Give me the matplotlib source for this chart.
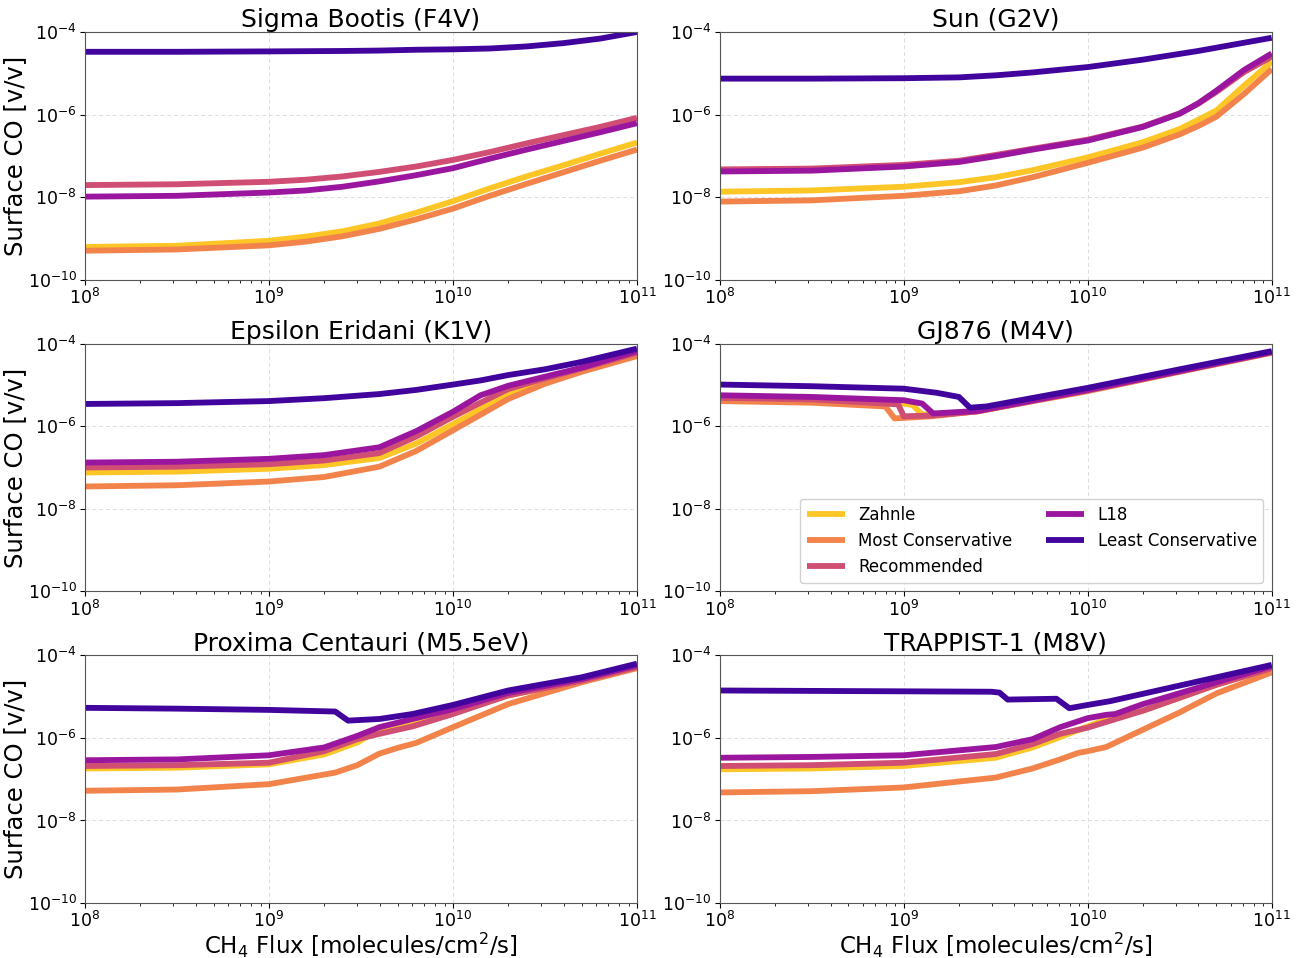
import numpy as np
import matplotlib
matplotlib.use("Agg")
import matplotlib.pyplot as plt
from matplotlib.ticker import LogLocator, NullLocator

# ---------------- data (log10 of CH4 flux, log10 of surface CO) ----------------
series_names = ["Zahnle", "Most Conservative", "Recommended", "L18", "Least Conservative"]
panel_titles = ["Sigma Bootis (F4V)", "Sun (G2V)", "Epsilon Eridani (K1V)",
                "GJ876 (M4V)", "Proxima Centauri (M5.5eV)", "TRAPPIST-1 (M8V)"]

# Sigma Bootis
sb_x = [8, 8.5, 9, 9.2, 9.4, 9.6, 9.8, 10, 10.2, 10.4, 10.6, 10.8, 11]
sb_zahnle = [-9.21, -9.18, -9.06, -8.96, -8.83, -8.64, -8.38, -8.10, -7.79, -7.50, -7.23, -6.95, -6.68]
sb_most = [-9.30, -9.27, -9.17, -9.08, -8.95, -8.77, -8.54, -8.28, -7.97, -7.68, -7.40, -7.12, -6.85]
sb_rec = [-7.71, -7.69, -7.63, -7.58, -7.50, -7.39, -7.26, -7.10, -6.91, -6.70, -6.50, -6.30, -6.08]
sb_l18 = [-7.99, -7.97, -7.89, -7.84, -7.75, -7.62, -7.47, -7.30, -7.07, -6.85, -6.64, -6.43, -6.21]
sb_least = [-4.48, -4.48, -4.47, -4.465, -4.46, -4.45, -4.43, -4.42, -4.40, -4.35, -4.27, -4.16, -4.00]

# Sun
sun_x = [8, 8.5, 9, 9.3, 9.5, 9.7, 10, 10.3, 10.5, 10.6, 10.7, 10.85, 11]
sun_zahnle = [-7.87, -7.84, -7.75, -7.64, -7.52, -7.35, -7.04, -6.67, -6.35, -6.13, -5.90, -5.30, -4.72]
sun_most = [-8.11, -8.08, -7.97, -7.86, -7.72, -7.52, -7.17, -6.80, -6.48, -6.28, -6.05, -5.50, -4.90]
sun_rec = [-7.33, -7.31, -7.22, -7.12, -6.98, -6.83, -6.61, -6.29, -5.97, -5.74, -5.45, -4.97, -4.60]
sun_l18 = [-7.38, -7.36, -7.26, -7.15, -7.01, -6.85, -6.63, -6.30, -5.98, -5.73, -5.42, -4.92, -4.52]
sun_least = [-5.13, -5.13, -5.12, -5.10, -5.05, -4.98, -4.85, -4.67, -4.53, -4.46, -4.38, -4.26, -4.14]

# Epsilon Eridani
ee_x = [8, 8.5, 9, 9.3, 9.6, 9.8, 10, 10.15, 10.3, 10.5, 10.7, 11]
ee_zahnle = [-7.12, -7.10, -7.03, -6.94, -6.77, -6.42, -5.95, -5.58, -5.20, -4.88, -4.62, -4.25]
ee_most = [-7.46, -7.43, -7.34, -7.23, -6.98, -6.60, -6.10, -5.72, -5.34, -4.97, -4.68, -4.30]
ee_rec = [-7.00, -6.98, -6.92, -6.83, -6.65, -6.25, -5.77, -5.43, -5.10, -4.84, -4.60, -4.22]
ee_l18 = [-6.88, -6.86, -6.79, -6.70, -6.51, -6.12, -5.65, -5.25, -5.02, -4.80, -4.58, -4.18]
ee_least = [-5.46, -5.44, -5.39, -5.32, -5.22, -5.12, -4.99, -4.89, -4.76, -4.62, -4.44, -4.12]

# GJ876
gj_zahnle_x = [8, 8.5, 9, 9.05, 9.1, 9.2, 9.4, 10, 10.5, 11]
gj_zahnle = [-5.35, -5.38, -5.45, -5.49, -5.72, -5.70, -5.64, -5.13, -4.67, -4.21]
gj_most_x = [8, 8.5, 8.9, 8.95, 9.15, 9.4, 10, 10.5, 11]
gj_most = [-5.39, -5.43, -5.52, -5.81, -5.76, -5.64, -5.15, -4.68, -4.22]
gj_rec_x = [8, 8.5, 8.97, 9.0, 9.15, 9.4, 10, 10.5, 11]
gj_rec = [-5.31, -5.35, -5.47, -5.76, -5.74, -5.64, -5.13, -4.67, -4.21]
gj_l18_x = [8, 8.5, 9, 9.1, 9.16, 9.4, 10, 10.5, 11]
gj_l18 = [-5.25, -5.29, -5.37, -5.45, -5.69, -5.63, -5.12, -4.66, -4.20]
gj_least_x = [8, 8.5, 9, 9.18, 9.3, 9.36, 9.45, 10, 10.5, 11]
gj_least = [-4.99, -5.03, -5.09, -5.19, -5.29, -5.55, -5.52, -5.07, -4.62, -4.18]

# Proxima Centauri
px_x = [8, 8.5, 9, 9.3, 9.48, 9.6, 9.78, 10, 10.3, 10.7, 11]
px_zahnle = [-6.74, -6.72, -6.64, -6.40, -6.11, -5.80, -5.64, -5.38, -4.97, -4.61, -4.28]
px_most_x = [8, 8.5, 9, 9.36, 9.48, 9.6, 9.7, 9.8, 10, 10.3, 10.7, 11]
px_most = [-7.28, -7.25, -7.12, -6.84, -6.66, -6.38, -6.24, -6.12, -5.74, -5.18, -4.65, -4.31]
px_rec = [-6.68, -6.66, -6.60, -6.32, -6.03, -5.90, -5.72, -5.42, -4.97, -4.61, -4.28]
px_l18 = [-6.54, -6.52, -6.42, -6.23, -5.95, -5.74, -5.54, -5.30, -4.91, -4.57, -4.24]
px_least_x = [8, 8.5, 9, 9.36, 9.43, 9.6, 9.78, 10, 10.3, 10.7, 11]
px_least = [-5.27, -5.29, -5.32, -5.36, -5.58, -5.54, -5.42, -5.20, -4.85, -4.53, -4.20]

# TRAPPIST-1
tr_zahnle_x = [8, 8.5, 9, 9.5, 9.7, 9.85, 10, 10.1, 10.3, 10.7, 11]
tr_zahnle = [-6.76, -6.74, -6.68, -6.48, -6.23, -5.98, -5.72, -5.55, -5.34, -4.71, -4.31]
tr_most_x = [8, 8.5, 9, 9.5, 9.7, 9.85, 9.95, 10.0, 10.1, 10.3, 10.5, 10.7, 11]
tr_most = [-7.32, -7.29, -7.20, -6.96, -6.74, -6.52, -6.36, -6.32, -6.22, -5.80, -5.38, -4.92, -4.41]
tr_rec_x = [8, 8.5, 9, 9.5, 9.7, 9.85, 10, 10.3, 10.7, 11]
tr_rec = [-6.68, -6.66, -6.60, -6.39, -6.15, -5.90, -5.75, -5.34, -4.71, -4.31]
tr_l18_x = [8, 8.5, 9, 9.5, 9.7, 9.85, 10, 10.1, 10.15, 10.3, 10.7, 11]
tr_l18 = [-6.48, -6.46, -6.42, -6.22, -6.03, -5.74, -5.52, -5.44, -5.42, -5.18, -4.65, -4.26]
tr_least_x = [8, 8.5, 9, 9.475, 9.52, 9.565, 9.83, 9.9, 10, 10.12, 10.3, 10.7, 11]
tr_least = [-4.85, -4.86, -4.87, -4.88, -4.90, -5.07, -5.05, -5.28, -5.20, -5.11, -4.93, -4.53, -4.23]

panels = [
    [(sb_x, sb_zahnle), (sb_x, sb_most), (sb_x, sb_rec), (sb_x, sb_l18), (sb_x, sb_least)],
    [(sun_x, sun_zahnle), (sun_x, sun_most), (sun_x, sun_rec), (sun_x, sun_l18), (sun_x, sun_least)],
    [(ee_x, ee_zahnle), (ee_x, ee_most), (ee_x, ee_rec), (ee_x, ee_l18), (ee_x, ee_least)],
    [(gj_zahnle_x, gj_zahnle), (gj_most_x, gj_most), (gj_rec_x, gj_rec), (gj_l18_x, gj_l18), (gj_least_x, gj_least)],
    [(px_x, px_zahnle), (px_most_x, px_most), (px_x, px_rec), (px_x, px_l18), (px_least_x, px_least)],
    [(tr_zahnle_x, tr_zahnle), (tr_most_x, tr_most), (tr_rec_x, tr_rec), (tr_l18_x, tr_l18), (tr_least_x, tr_least)],
]

colors = [plt.cm.plasma(v) for v in [0.88, 0.7, 0.52, 0.33, 0.1]]

fig, axes = plt.subplots(3, 2, figsize=(13.07, 9.58), dpi=100)
fig.subplots_adjust(left=0.065, right=0.973, top=0.9666, bottom=0.0574,
                    wspace=0.150, hspace=0.259)

for i, ax in enumerate(axes.flat):
    for (xs, ys), name, c in zip(panels[i], series_names, colors):
        ax.plot(10.0 ** np.array(xs), 10.0 ** np.array(ys), color=c, lw=4.2,
                label=name, solid_capstyle='butt', solid_joinstyle='round')
    ax.set_xscale('log')
    ax.set_yscale('log')
    ax.set_xlim(1e8, 1e11)
    ax.set_ylim(1e-10, 1e-4)
    ax.set_yticks([1e-10, 1e-8, 1e-6, 1e-4])
    ax.yaxis.set_minor_locator(NullLocator())
    ax.xaxis.set_major_locator(LogLocator(base=10, numticks=10))
    ax.xaxis.set_minor_locator(LogLocator(base=10, subs=np.arange(2, 10), numticks=20))
    ax.tick_params(axis='both', which='major', labelsize=12.5, pad=2.5)
    ax.grid(True, which='major', linestyle=(0, (4, 3)), color='#dddddd', linewidth=0.7)
    ax.set_title(panel_titles[i], fontsize=18, pad=3)
    for sp in ax.spines.values():
        sp.set_color('#555555')
    if i % 2 == 0:
        ax.set_ylabel('Surface CO [v/v]', fontsize=17.5, labelpad=0)
    if i >= 4:
        ax.set_xlabel('CH$_4$ Flux [molecules/cm$^2$/s]', fontsize=16.5, labelpad=-0.5)

axes[1, 1].legend(loc='lower right', ncol=2, fontsize=12, handlelength=2.3,
                  framealpha=0.9)

fig.savefig('out.png', dpi=100)
